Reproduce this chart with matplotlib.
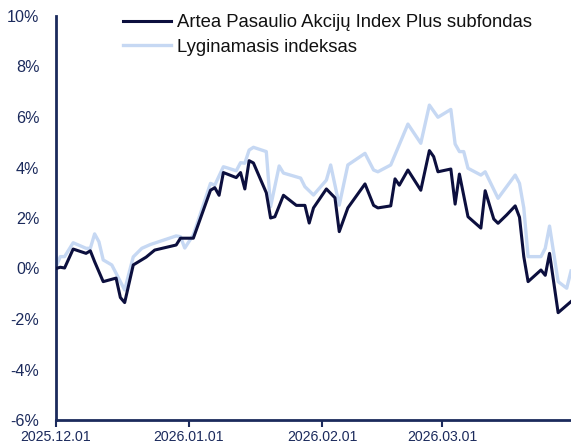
import matplotlib
matplotlib.use("Agg")
import matplotlib.pyplot as plt
import matplotlib.dates as mdates
from matplotlib.ticker import FuncFormatter, FixedLocator
import numpy as np
import datetime as dt

plt.rcParams['font.family'] = ['Liberation Sans', 'DejaVu Sans']

START = dt.date(2025, 12, 1)

# day offsets from 2025.12.01 and cumulative return, %
fund_days = [0, 1, 2, 4, 7, 8, 9, 11, 14, 15, 16, 18, 21, 23, 28, 29, 32, 36, 37, 38,
             39, 42, 43, 44, 45, 46, 49, 50, 51, 53, 56, 58, 59, 60, 63, 65, 66, 68,
             72, 74, 75, 78, 79, 80, 82, 85, 87, 88, 89, 92, 93, 94, 96, 99, 100, 102,
             103, 105, 107, 108, 109, 110, 113, 114, 115, 117, 120]
fund_vals = [0.0, 0.05, 0.02, 0.77, 0.6, 0.7, 0.27, -0.52, -0.38, -1.15, -1.35, 0.14, 0.45,
             0.73, 0.93, 1.2, 1.2, 3.1, 3.2, 2.9, 3.8, 3.6, 3.8, 3.15, 4.27, 4.18, 3.0, 2.0,
             2.05, 2.9, 2.5, 2.5, 1.8, 2.4, 3.15, 2.8, 1.46, 2.4, 3.35, 2.5, 2.4, 2.48, 3.55,
             3.3, 3.9, 3.1, 4.67, 4.43, 3.83, 3.94, 2.55, 3.74, 2.05, 1.6, 3.08, 1.96, 1.79,
             2.12, 2.48, 2.03, 0.47, -0.52, -0.06, -0.27, 0.6, -1.75, -1.31]

bench_days = [0, 1, 2, 4, 7, 8, 9, 10, 11, 13, 16, 18, 20, 22, 28, 29, 30, 32, 36, 37,
              39, 40, 42, 43, 44, 45, 46, 49, 50, 52, 53, 57, 58, 60, 63, 64, 66, 68, 72,
              74, 75, 78, 82, 85, 87, 89, 92, 93, 94, 95, 96, 99, 100, 103, 107, 108, 109,
              110, 113, 114, 115, 117, 119, 120]
bench_vals = [0.07, 0.47, 0.47, 1.02, 0.8, 0.8, 1.37, 1.06, 0.34, 0.14, -0.85, 0.46, 0.8,
              0.95, 1.29, 1.26, 0.81, 1.33, 3.37, 3.3, 4.03, 3.98, 3.87, 4.19, 4.17, 4.69,
              4.8, 4.63, 2.45, 4.06, 3.78, 3.58, 3.24, 2.91, 3.5, 4.1, 2.51, 4.1, 4.56, 3.9,
              3.83, 4.1, 5.72, 4.96, 6.47, 5.99, 6.3, 4.93, 4.63, 4.63, 3.97, 3.7, 3.83,
              2.78, 3.7, 3.37, 2.4, 0.47, 0.47, 0.8, 1.68, -0.52, -0.78, -0.1]

fund_label = "Artea Pasaulio Akcijų Index Plus subfondas"
bench_label = "Lyginamasis indeksas"
x_ticks = ["2025-12-01", "2026-01-01", "2026-02-01", "2026-03-01"]
y_ticks = [-6, -4, -2, 0, 2, 4, 6, 8, 10]

NAVY = "#1b2a5c"
DARK = "#0c0f3e"
LIGHT = "#c6d8f3"

fund_dates = [START + dt.timedelta(days=d) for d in fund_days]
bench_dates = [START + dt.timedelta(days=d) for d in bench_days]

fig = plt.figure(figsize=(5.71, 4.47), dpi=100)
ax = fig.add_axes([56 / 571, 27 / 447, 1 - 56 / 571, (420 - 16) / 447])

ax.plot(bench_dates, bench_vals, color=LIGHT, lw=2.4, label=bench_label, zorder=2)
ax.plot(fund_dates, fund_vals, color=DARK, lw=2.2, label=fund_label, zorder=3)

ax.set_xlim(START, dt.date(2026, 3, 31))
ax.set_ylim(-6, 10)
ax.yaxis.set_major_locator(FixedLocator(y_ticks))
ax.yaxis.set_major_formatter(FuncFormatter(lambda v, p: f"{v:.0f}%"))
ax.xaxis.set_major_locator(FixedLocator([mdates.date2num(np.datetime64(t)) for t in x_ticks]))
ax.xaxis.set_major_formatter(mdates.DateFormatter("%Y.%m.%d"))

for s in ["top", "right"]:
    ax.spines[s].set_visible(False)
for s in ["left", "bottom"]:
    ax.spines[s].set_color(NAVY)
    ax.spines[s].set_linewidth(2)

ax.tick_params(axis="y", length=0, pad=12, labelsize=11.6, labelcolor=NAVY)
ax.tick_params(axis="x", length=5, width=1.5, color=NAVY, pad=2, labelsize=10.2, labelcolor=NAVY)

handles, labels = ax.get_legend_handles_labels()
ax.legend(handles[::-1], labels[::-1], loc="upper left", bbox_to_anchor=(0.098, 1.045),
          frameon=False, fontsize=13.3, handlelength=2.6, handletextpad=0.32,
          labelspacing=0.4, labelcolor="#111111")

fig.savefig("out.png", dpi=100)
